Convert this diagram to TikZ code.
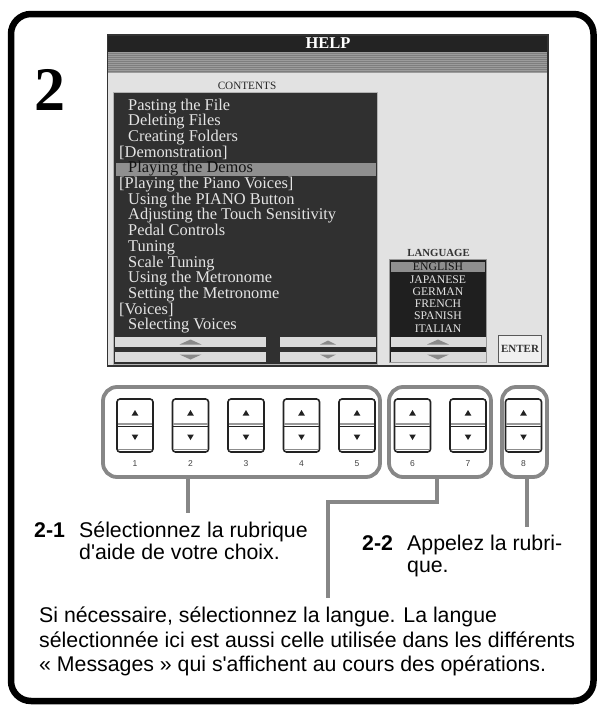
\documentclass[tikz,border=0pt]{standalone}
\usepackage{fontspec}
\setmainfont{Liberation Serif}
\setsansfont{Liberation Sans}[Ligatures=TeXOff]
\definecolor{grpgray}{HTML}{878787}
\definecolor{btnline}{HTML}{222222}
\definecolor{scrdark}{HTML}{303030}
\definecolor{langdark}{HTML}{1F1F1F}
\definecolor{titledark}{HTML}{232323}
\definecolor{scrlight}{HTML}{E2E2E2}
\definecolor{itemtxt}{HTML}{E4E4E4}
\definecolor{hibar}{HTML}{8F8F8F}
\definecolor{sbtn}{HTML}{DADADA}
\definecolor{stri}{HTML}{8A8A8A}
\definecolor{stripeA}{HTML}{7E7E7E}
\definecolor{stripeB}{HTML}{9C9C9C}
\definecolor{seltxt}{HTML}{111111}
\begin{document}
\begin{tikzpicture}[x=1pt,y=-1pt,
  grp/.style={draw=grpgray, line width=3.8pt, rounded corners=14pt, inner sep=0pt, minimum height=90pt},
  btn/.style={draw=btnline, line width=1.6pt, rounded corners=3pt, fill=white, minimum width=36pt, minimum height=53pt, inner sep=0pt},
  lead/.style={draw=grpgray, line width=3.8pt},
  lbl/.style={font=\sffamily\fontsize{21.3}{22}\selectfont, inner sep=0pt, anchor=base west},
  item/.style={font=\fontsize{16.4}{16}\selectfont, inner sep=0pt, text=itemtxt, anchor=base west},
  langitem/.style={font=\fontsize{11.7}{12}\selectfont, inner sep=0pt, text=itemtxt, anchor=base},
  numlbl/.style={font=\sffamily\fontsize{8.5}{9}\selectfont, text=black!75, inner sep=0pt},
  sbutton/.style={fill=sbtn},
  stri/.style={fill=stri}
]
\useasboundingbox (0,0) rectangle (598,707);
\fill[white] (0,0) rectangle (598,707);

% outer frame
\draw[line width=6.5pt, rounded corners=20pt] (11,14) rectangle (593.5,701);

% big step number
\node[font=\bfseries\fontsize{62}{62}\selectfont, inner sep=0pt, anchor=base] (step) at (50,110) {2};

% ---------- screen ----------
\fill[scrlight] (107.5,35) rectangle (548,366);
\fill[titledark] (107.5,35) rectangle (548,52);
\fill[stripeA] (107.5,52) rectangle (548,73);
\foreach \s in {0,...,10} {
  \draw[stripeB, line width=0.9pt] (107.5,52.8+2*\s) -- (548,52.8+2*\s);
}
\draw[black!80, line width=1.2pt] (107.5,35) rectangle (548,366);
\node[font=\bfseries\fontsize{16.5}{16}\selectfont, text=white, inner sep=0pt, anchor=base] (help) at (328,48.5) {HELP};

% contents list
\node[font=\fontsize{11.2}{11}\selectfont, text=black!85, inner sep=0pt, anchor=base] (contlbl) at (247,89) {CONTENTS};
\filldraw[fill=scrdark, draw=black!30, line width=0.8pt] (113,92) rectangle (377,364);
\fill[hibar] (116,163.3) rectangle (375.7,176);
\node[item] (i0) at (128,110) {Pasting the File};
\node[item] (i1) at (128,125.7) {Deleting Files};
\node[item] (i2) at (128,141.4) {Creating Folders};
\node[item] (i3) at (119,157.1) {[Demonstration]};
\node[item] (i4) at (128,172.8) {\color{seltxt}Playing the Demos};
\node[item] (i5) at (119,188.5) {[Playing the Piano Voices]};
\node[item] (i6) at (128,204.2) {Using the PIANO Button};
\node[item] (i7) at (128,219.9) {Adjusting the Touch Sensitivity};
\node[item] (i8) at (128,235.6) {Pedal Controls};
\node[item] (i9) at (128,251.3) {Tuning};
\node[item] (i10) at (128,267.0) {Scale Tuning};
\node[item] (i11) at (128,282.7) {Using the Metronome};
\node[item] (i12) at (128,298.4) {Setting the Metronome};
\node[item] (i13) at (119,314.1) {[Voices]};
\node[item] (i14) at (128,329.8) {Selecting Voices};

% contents scroll buttons
\fill[sbutton] (115,337) rectangle (266,347);
\fill[sbutton] (115,352) rectangle (266,362);
\fill[sbutton] (280,337) rectangle (376,347);
\fill[sbutton] (280,352) rectangle (376,362);
\fill[stri] (179.5,344.5) -- (201.5,344.5) -- (190.5,339.5) -- cycle;
\fill[stri] (179.5,354.5) -- (201.5,354.5) -- (190.5,359.5) -- cycle;
\fill[stri] (320,344.5) -- (336,344.5) -- (328,340.5) -- cycle;
\fill[stri] (320,354.5) -- (336,354.5) -- (328,358.5) -- cycle;

% language list
\node[font=\bfseries\fontsize{10.8}{11}\selectfont, text=black!80, inner sep=0pt, anchor=base] (langlbl) at (438.5,256) {LANGUAGE};
\filldraw[fill=langdark, draw=black!40, line width=0.8pt] (389,259.3) rectangle (486.7,362.7);
\fill[hibar] (390.7,262.3) rectangle (485,272.3);
\node[langitem] (l0) at (438,270.7) {\color{seltxt}ENGLISH};
\node[langitem] (l1) at (438,283.0) {JAPANESE};
\node[langitem] (l2) at (438,295.3) {GERMAN};
\node[langitem] (l3) at (438,307.6) {FRENCH};
\node[langitem] (l4) at (438,319.9) {SPANISH};
\node[langitem] (l5) at (438,332.2) {ITALIAN};
\fill[sbutton] (390.5,337) rectangle (485.5,347);
\fill[sbutton] (390.5,352) rectangle (485.5,362);
\fill[stri] (427,344.5) -- (449,344.5) -- (438,339.5) -- cycle;
\fill[stri] (427,354.5) -- (449,354.5) -- (438,359.5) -- cycle;

% enter button
\node[draw=black!65, fill=black!6, line width=1pt, minimum width=43.4pt, minimum height=26.6pt, inner sep=0pt,
      font=\bfseries\fontsize{11}{11}\selectfont, text=black!80] (enter) at (520,349) {ENTER};

% ---------- panel buttons ----------
\node[grp, minimum width=277pt] (g1) at (241.5,432) {};
\node[grp, minimum width=102pt] (g2) at (440,432) {};
\node[grp, minimum width=45pt] (g3) at (524.5,432) {};

\foreach \i in {1,...,8} {
  \pgfmathsetmacro\bx{135+55.5*(\i-1)}
  \node[btn] (b\i) at (\bx,425.5) {};
  \draw[black!40, line width=2.4pt] (\bx-17.2,424.2) -- (\bx+17.2,424.2);
  \draw[btnline, line width=1.2pt] (\bx-17.2,426.6) -- (\bx+17.2,426.6);
  \draw[black!45, line width=1.3pt] (\bx-17.2,449.4) -- (\bx+17.2,449.4);
  \fill[btnline] (\bx-3.3,415.5) -- (\bx+3.3,415.5) -- (\bx,410) -- cycle;
  \fill[btnline] (\bx-3.3,434.5) -- (\bx+3.3,434.5) -- (\bx,440) -- cycle;
  \node[numlbl] (n\i) at (\bx,463.5) {\i};
}

% ---------- leader lines ----------
\coordinate (c1) at (188,513);
\draw[lead] (g1.south -| c1) -- (c1);
\coordinate (c2a) at (437,502);
\coordinate (c2b) at (328,502);
\coordinate (c2c) at (328,598);
\draw[lead] (g2.south -| c2a) -- (c2a) -- (c2b) -- (c2c);
\coordinate (c3) at (527,527);
\draw[lead] (g3.south -| c3) -- (c3);

% ---------- labels ----------
\node[lbl] (s21) at (34,537) {\textbf{2-1}};
\node[lbl] (t21a) at (79,537) {Sélectionnez la rubrique};
\node[lbl] (t21b) at (79,559.5) {d'aide de votre choix.};
\node[lbl] (s22) at (362,550) {\textbf{2-2}};
\node[lbl] (t22a) at (407,550) {Appelez la rubri-};
\node[lbl] (t22b) at (407,572) {que.};
\node[lbl] (p1) at (39,622.7) {Si nécessaire, sélectionnez la langue. La langue};
\node[lbl] (p2) at (39,647.2) {sélectionnée ici est aussi celle utilisée dans les différents};
\node[lbl] (p3) at (39,671.7) {« Messages » qui s'affichent au cours des opérations.};
\end{tikzpicture}
\end{document}
